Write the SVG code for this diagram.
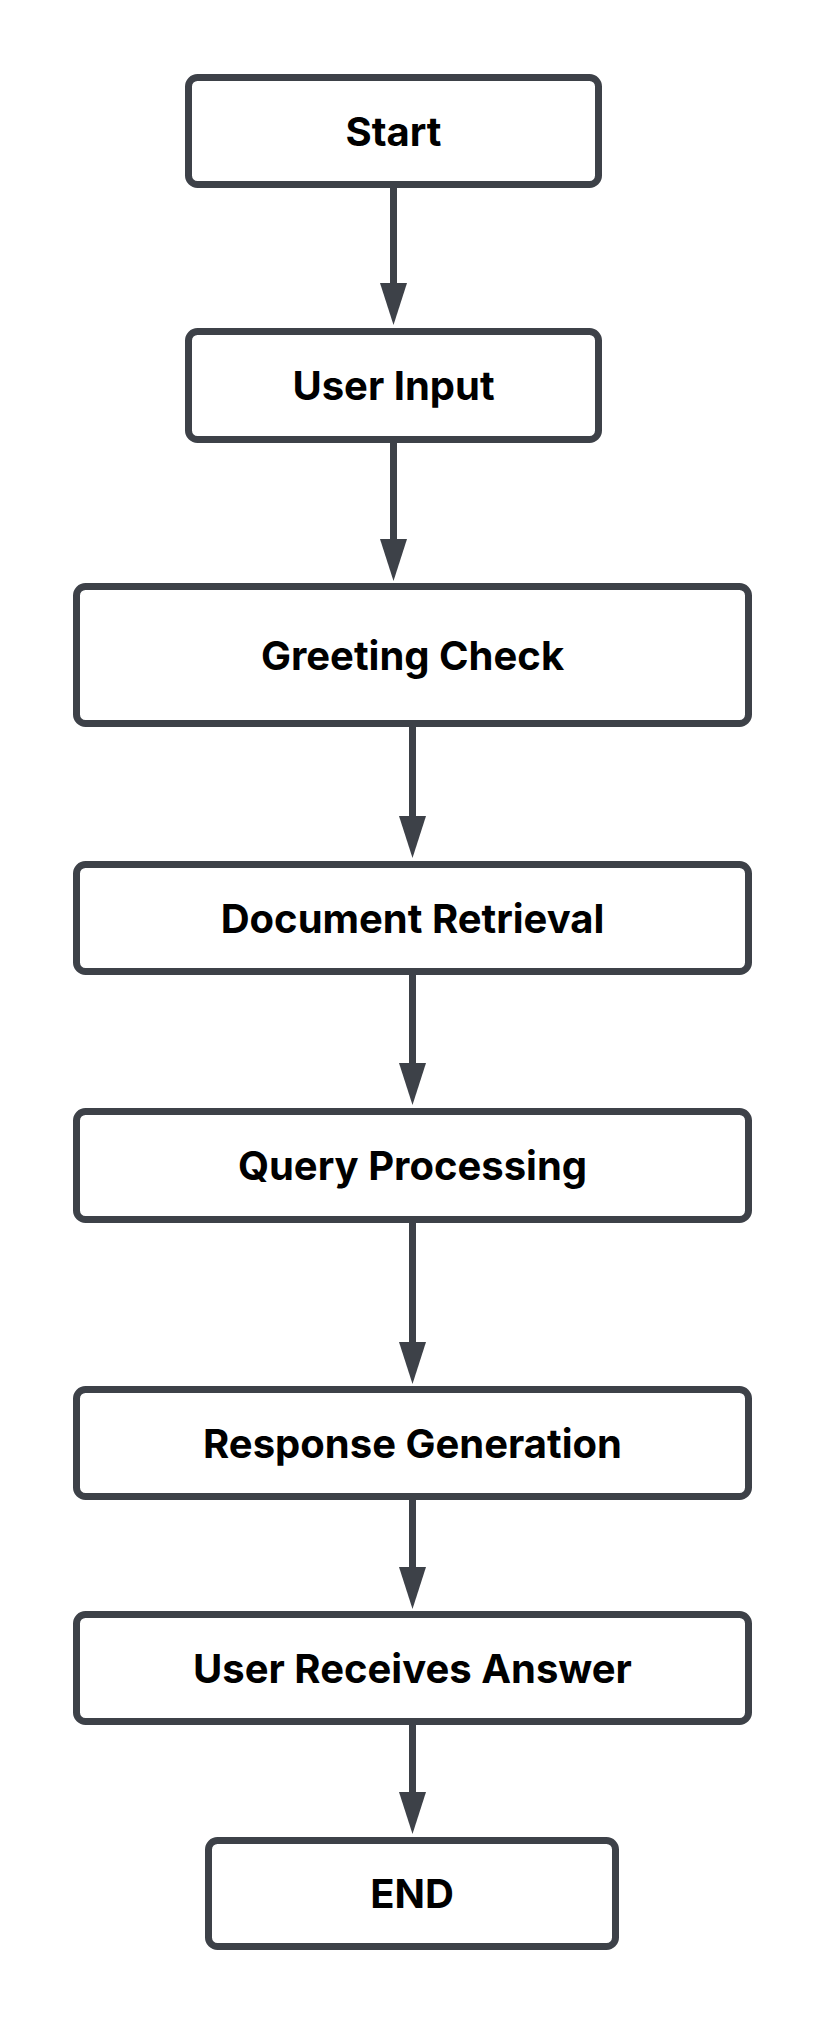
<svg xmlns="http://www.w3.org/2000/svg" width="825" height="2025" viewBox="0 0 825 2025">
<style>
.box{fill:#fff;stroke:#3d4148;stroke-width:7}
.lbl{font-family:Inter,"Liberation Sans",sans-serif;font-weight:700;font-size:40px;fill:#000;text-anchor:middle}
.edge{stroke:#3d4148;stroke-width:7;fill:none}
.head{fill:#3d4148}
</style>
<rect width="825" height="2025" fill="#fff"/>
<g id="connectors">
<line class="edge" x1="393.5" y1="188" x2="393.5" y2="295"/><polygon class="head" points="380,283 407,283 393.5,325"/>
<line class="edge" x1="393.5" y1="443" x2="393.5" y2="551"/><polygon class="head" points="380,539 407,539 393.5,581"/>
<line class="edge" x1="412.5" y1="727" x2="412.5" y2="828"/><polygon class="head" points="399,816 426,816 412.5,858"/>
<line class="edge" x1="412.5" y1="975" x2="412.5" y2="1075"/><polygon class="head" points="399,1063 426,1063 412.5,1105"/>
<line class="edge" x1="412.5" y1="1223" x2="412.5" y2="1354"/><polygon class="head" points="399,1342 426,1342 412.5,1384"/>
<line class="edge" x1="412.5" y1="1500" x2="412.5" y2="1579"/><polygon class="head" points="399,1567 426,1567 412.5,1609"/>
<line class="edge" x1="412.5" y1="1725" x2="412.5" y2="1804"/><polygon class="head" points="399,1792 426,1792 412.5,1834"/>
</g>
<g id="start"><rect class="box" x="188.5" y="77.5" width="410" height="107" rx="9"/><text class="lbl" x="393.5" y="145.5">Start</text></g>
<g id="user-input"><rect class="box" x="188.5" y="331.5" width="410" height="108" rx="9"/><text class="lbl" x="393.5" y="400">User Input</text></g>
<g id="greeting-check"><rect class="box" x="76.5" y="586.5" width="672" height="137" rx="9"/><text class="lbl" x="412.5" y="669.5">Greeting Check</text></g>
<g id="document-retrieval"><rect class="box" x="76.5" y="864.5" width="672" height="107" rx="9"/><text class="lbl" x="412.5" y="932.5">Document Retrieval</text></g>
<g id="query-processing"><rect class="box" x="76.5" y="1111.5" width="672" height="108" rx="9"/><text class="lbl" x="412.5" y="1180">Query Processing</text></g>
<g id="response-generation"><rect class="box" x="76.5" y="1389.5" width="672" height="107" rx="9"/><text class="lbl" x="412.5" y="1457.5">Response Generation</text></g>
<g id="user-receives-answer"><rect class="box" x="76.5" y="1614.5" width="672" height="107" rx="9"/><text class="lbl" x="412.5" y="1682.5">User Receives Answer</text></g>
<g id="end"><rect class="box" x="208.5" y="1840.5" width="407" height="106" rx="9"/><text class="lbl" x="412" y="1908">END</text></g>
</svg>
